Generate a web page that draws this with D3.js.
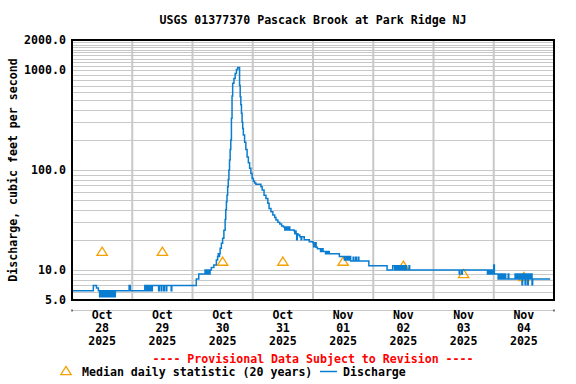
<!DOCTYPE html>
<html>
<head>
<meta charset="utf-8">
<script src="https://cdn.jsdelivr.net/npm/d3@7"></script>
<style>
  body { margin: 0; background: #fff; }
  text { font-family: "DejaVu Sans Mono", monospace; font-weight: bold; font-size: 11.6px; fill: #000; }
</style>
</head>
<body>
<svg id="chart"></svg>
<script>
var title = "USGS 01377370 Pascack Brook at Park Ridge NJ";
var yTitle = "Discharge, cubic feet per second";
var notice = "---- Provisional Data Subject to Revision ----";

var days = ["10-28", "10-29", "10-30", "10-31", "11-01", "11-02", "11-03", "11-04"];
var dayMonths = ["Oct", "Oct", "Oct", "Oct", "Nov", "Nov", "Nov", "Nov"];
var dayNumbers = ["28", "29", "30", "31", "01", "02", "03", "04"];
var dayYears = ["2025", "2025", "2025", "2025", "2025", "2025", "2025", "2025"];

var yTicks = [5, 10, 100, 1000, 2000];
var yTickLabels = ["5.0", "10.0", "100.0", "1000.0", "2000.0"];

// median daily statistic (20 years), one per day at noon
var medianValues = [15.2, 15.2, 12.1, 12.1, 12.1, 11.0, 9.1, 8.5];

// 15-minute discharge, only where the value changes
var discharge = [
  ["10-28 00:00", 6.2], ["10-28 08:30", 7.0], ["10-28 09:45", 6.6], ["10-28 10:30", 6.2],
  ["10-28 11:00", 5.4], ["10-28 11:15", 6.2], ["10-28 11:30", 5.4], ["10-28 11:45", 6.2],
  ["10-28 12:00", 5.4], ["10-28 12:15", 6.2], ["10-28 12:30", 5.4], ["10-28 12:45", 6.2],
  ["10-28 13:00", 5.4], ["10-28 13:15", 6.2], ["10-28 13:30", 5.4], ["10-28 13:45", 6.2],
  ["10-28 14:00", 5.4], ["10-28 14:15", 6.2], ["10-28 14:30", 5.4], ["10-28 14:45", 6.2],
  ["10-28 15:00", 5.4], ["10-28 15:15", 6.2], ["10-28 15:30", 5.4], ["10-28 15:45", 6.2],
  ["10-28 16:00", 5.4], ["10-28 16:15", 6.2], ["10-28 16:30", 5.4], ["10-28 16:45", 6.2],
  ["10-28 17:00", 5.4], ["10-28 17:15", 6.2],
  ["10-28 22:45", 7.0], ["10-28 23:15", 6.2],
  ["10-29 05:00", 7.0], ["10-29 05:15", 6.2], ["10-29 05:30", 7.0], ["10-29 05:45", 6.2],
  ["10-29 06:00", 7.0], ["10-29 06:15", 6.2], ["10-29 06:30", 7.0], ["10-29 06:45", 6.2],
  ["10-29 07:00", 7.0], ["10-29 07:15", 6.2], ["10-29 07:30", 7.0], ["10-29 07:45", 6.2],
  ["10-29 08:00", 7.0],
  ["10-29 10:30", 6.2], ["10-29 10:45", 7.0], ["10-29 11:30", 6.2], ["10-29 11:45", 7.0],
  ["10-29 12:30", 6.2], ["10-29 12:45", 7.0], ["10-29 13:30", 6.2], ["10-29 13:45", 7.0],
  ["10-29 15:30", 6.2], ["10-29 15:45", 7.0],
  ["10-30 01:30", 8.1], ["10-30 02:30", 9.1],
  ["10-30 05:00", 10.0], ["10-30 05:15", 9.1], ["10-30 05:30", 10.0], ["10-30 05:45", 9.1],
  ["10-30 06:00", 10.0], ["10-30 06:15", 9.1], ["10-30 06:30", 10.0], ["10-30 06:45", 9.1],
  ["10-30 07:00", 10.0], ["10-30 07:30", 10.6], ["10-30 08:30", 11.2], ["10-30 09:30", 12.6],
  ["10-30 10:00", 13.6], ["10-30 10:15", 14.5], ["10-30 10:30", 13.6], ["10-30 10:45", 14.5],
  ["10-30 11:00", 16.5], ["10-30 11:30", 18.5], ["10-30 12:00", 20.7], ["10-30 12:30", 25],
  ["10-30 13:00", 32], ["10-30 13:15", 40], ["10-30 13:30", 48], ["10-30 13:45", 56],
  ["10-30 14:00", 68], ["10-30 14:15", 81], ["10-30 14:30", 100], ["10-30 14:45", 126],
  ["10-30 15:00", 160], ["10-30 15:15", 200], ["10-30 15:30", 330], ["10-30 15:45", 550],
  ["10-30 16:00", 740], ["10-30 16:30", 825], ["10-30 17:00", 926], ["10-30 17:30", 1016],
  ["10-30 18:00", 1060], ["10-30 18:45", 700], ["10-30 19:00", 541], ["10-30 19:15", 450],
  ["10-30 19:30", 369], ["10-30 19:45", 300], ["10-30 20:00", 260], ["10-30 20:15", 224],
  ["10-30 20:45", 190], ["10-30 21:15", 160], ["10-30 21:45", 135], ["10-30 22:15", 118],
  ["10-30 22:45", 104], ["10-30 23:15", 92], ["10-30 23:45", 82],
  ["10-31 00:15", 77], ["10-31 00:45", 74], ["10-31 01:15", 72], ["10-31 03:15", 68],
  ["10-31 03:45", 63], ["10-31 04:30", 56], ["10-31 05:15", 52], ["10-31 06:00", 46.4],
  ["10-31 06:30", 41.3], ["10-31 07:15", 38.3], ["10-31 08:00", 35.5], ["10-31 08:45", 33.5],
  ["10-31 09:15", 31.6], ["10-31 10:00", 30.0], ["10-31 10:45", 28.8], ["10-31 11:30", 27.5],
  ["10-31 12:15", 26.9], ["10-31 12:45", 25.1], ["10-31 13:00", 26.9], ["10-31 13:15", 25.1],
  ["10-31 13:30", 26.9], ["10-31 13:45", 25.1], ["10-31 14:00", 26.9], ["10-31 14:15", 25.1],
  ["10-31 14:30", 26.9], ["10-31 14:45", 25.1],
  ["10-31 16:30", 24.5], ["10-31 16:45", 23.0], ["10-31 17:00", 24.5], ["10-31 17:15", 23.0],
  ["10-31 17:30", 20.0], ["10-31 17:45", 23.0], ["10-31 18:00", 22.4], ["10-31 18:45", 21.5],
  ["10-31 19:15", 20.0], ["10-31 19:30", 21.5], ["10-31 20:30", 20.0], ["10-31 22:30", 19.1],
  ["11-01 00:00", 18.7], ["11-01 00:15", 17.1], ["11-01 00:30", 18.7], ["11-01 00:45", 17.1],
  ["11-01 01:00", 18.7], ["11-01 01:15", 16.9], ["11-01 01:45", 16.3],
  ["11-01 03:00", 15.3], ["11-01 03:15", 16.3], ["11-01 03:30", 15.3], ["11-01 03:45", 16.3],
  ["11-01 04:00", 15.3], ["11-01 05:00", 14.5], ["11-01 05:15", 15.3], ["11-01 05:30", 14.5],
  ["11-01 05:45", 15.3], ["11-01 06:00", 14.5], ["11-01 06:15", 15.3], ["11-01 06:30", 14.5],
  ["11-01 10:30", 13.6],
  ["11-01 12:30", 12.6], ["11-01 12:45", 13.6], ["11-01 13:00", 12.6], ["11-01 13:15", 13.6],
  ["11-01 13:30", 12.6], ["11-01 13:45", 13.6], ["11-01 14:00", 12.6], ["11-01 14:15", 13.6],
  ["11-01 14:30", 12.6], ["11-01 14:45", 13.6], ["11-01 15:00", 12.3],
  ["11-01 16:00", 13.4], ["11-01 16:15", 12.3], ["11-01 17:00", 13.4], ["11-01 17:15", 12.3],
  ["11-01 18:00", 13.4], ["11-01 18:15", 12.3], ["11-01 22:15", 11.0],
  ["11-02 05:30", 10.0], ["11-02 07:45", 11.0],
  ["11-02 08:30", 10.0], ["11-02 08:45", 11.0], ["11-02 09:15", 10.0], ["11-02 09:30", 11.0],
  ["11-02 09:45", 10.0], ["11-02 10:00", 11.0], ["11-02 10:15", 10.0], ["11-02 10:30", 11.0],
  ["11-02 10:45", 10.0], ["11-02 11:00", 11.0], ["11-02 11:15", 10.0], ["11-02 11:30", 11.0],
  ["11-02 11:45", 10.0], ["11-02 12:00", 11.0], ["11-02 12:15", 10.0], ["11-02 12:30", 11.0],
  ["11-02 12:45", 10.0], ["11-02 13:00", 11.0], ["11-02 13:15", 10.0], ["11-02 14:15", 11.0],
  ["11-02 14:30", 10.0],
  ["11-03 10:15", 9.1], ["11-03 10:30", 10.0], ["11-03 11:15", 9.1], ["11-03 11:30", 10.0],
  ["11-03 21:30", 9.1], ["11-03 21:45", 10.0], ["11-03 22:00", 9.1], ["11-03 22:15", 10.0],
  ["11-03 22:30", 9.1], ["11-03 22:45", 10.0], ["11-03 23:00", 9.1], ["11-03 23:15", 10.0],
  ["11-03 23:30", 9.1], ["11-03 23:45", 10.0],
  ["11-04 00:00", 11.2], ["11-04 00:15", 9.1],
  ["11-04 01:45", 8.1], ["11-04 02:00", 9.1], ["11-04 02:15", 8.1], ["11-04 02:30", 9.1],
  ["11-04 02:45", 8.1], ["11-04 03:00", 9.1], ["11-04 03:15", 8.1], ["11-04 03:30", 9.1],
  ["11-04 03:45", 8.1], ["11-04 04:00", 9.1], ["11-04 04:15", 8.1], ["11-04 04:30", 9.1],
  ["11-04 04:45", 8.1], ["11-04 05:45", 9.1], ["11-04 06:00", 8.1],
  ["11-04 08:30", 9.1], ["11-04 08:45", 8.1], ["11-04 09:00", 9.1], ["11-04 09:15", 8.1],
  ["11-04 09:30", 9.1], ["11-04 09:45", 8.1], ["11-04 10:00", 9.1], ["11-04 10:15", 8.1],
  ["11-04 10:30", 9.1], ["11-04 10:45", 8.1], ["11-04 11:00", 9.1], ["11-04 11:15", 7.1],
  ["11-04 11:30", 9.1], ["11-04 11:45", 8.1], ["11-04 12:00", 9.1], ["11-04 12:15", 8.1],
  ["11-04 12:30", 7.1], ["11-04 12:45", 9.1], ["11-04 13:00", 8.1], ["11-04 13:15", 9.1],
  ["11-04 13:30", 7.1], ["11-04 13:45", 8.1], ["11-04 14:00", 9.1], ["11-04 14:15", 8.1],
  ["11-04 14:30", 9.1], ["11-04 14:45", 8.1], ["11-04 15:00", 9.1], ["11-04 15:15", 7.1],
  ["11-04 15:30", 8.1], ["11-04 22:30", 8.1]
];

var parseTime = d3.timeParse("%Y-%m-%d %H:%M");
function toDate(s) { return parseTime("2025-" + s); }

var svgWidth = 576, svgHeight = 384;
var margin = { top: 40, right: 22, bottom: 84, left: 72 };
var width = svgWidth - margin.left - margin.right;
var height = svgHeight - margin.top - margin.bottom;

var svg = d3.select("#chart")
    .attr("width", svgWidth)
    .attr("height", svgHeight);

var x = d3.scaleTime()
    .domain([toDate("10-28 00:00"), toDate("11-05 00:00")])
    .range([margin.left, margin.left + width]);

var y = d3.scaleLog()
    .domain([5, 2000])
    .range([margin.top + height, margin.top]);

// log grid: every 1..9 multiple, plus 1100..1900
var gridValues = y.ticks().filter(function(v) { return v > 5 && v < 2000; });
for (var k = 11; k <= 19; k++) gridValues.push(k * 100);

var grid = svg.append("g").attr("stroke", "#c8c8c8").attr("fill", "none");

grid.selectAll("line.h")
    .data(gridValues)
    .enter().append("line")
    .attr("class", "h")
    .attr("x1", margin.left)
    .attr("x2", margin.left + width)
    .attr("y1", function(d) { return Math.round(y(d)) + 0.5; })
    .attr("y2", function(d) { return Math.round(y(d)) + 0.5; })
    .attr("stroke-width", 1.2);

grid.selectAll("line.v")
    .data(days.slice(1))
    .enter().append("line")
    .attr("class", "v")
    .attr("x1", function(d) { return x(toDate(d + " 00:00")); })
    .attr("x2", function(d) { return x(toDate(d + " 00:00")); })
    .attr("y1", margin.top)
    .attr("y2", margin.top + height)
    .attr("stroke-width", 2);

// median triangles
var tri = "M0,-4.6L5.2,3.6L-5.2,3.6Z";
svg.append("g")
    .selectAll("path")
    .data(medianValues)
    .enter().append("path")
    .attr("d", tri)
    .attr("transform", function(d, i) {
        return "translate(" + x(toDate(days[i] + " 12:00")) + "," + y(d) + ")";
    })
    .attr("fill", "none")
    .attr("stroke", "#f5a000")
    .attr("stroke-width", 1.3);

// discharge
var line = d3.line()
    .curve(d3.curveStepAfter)
    .x(function(d) { return x(toDate(d[0])); })
    .y(function(d) { return y(d[1]); });

svg.append("path")
    .datum(discharge)
    .attr("fill", "none")
    .attr("stroke", "#0a7dd0")
    .attr("stroke-width", 1.5)
    .attr("d", line);

// frame
svg.append("rect")
    .attr("x", margin.left)
    .attr("y", margin.top)
    .attr("width", width)
    .attr("height", height)
    .attr("fill", "none")
    .attr("stroke", "#000")
    .attr("stroke-width", 2);

// y tick labels
svg.append("g")
    .selectAll("text")
    .data(yTicks)
    .enter().append("text")
    .attr("x", margin.left - 6)
    .attr("y", function(d) { return y(d) + 4; })
    .attr("text-anchor", "end")
    .text(function(d, i) { return yTickLabels[i]; });

// x axis line under the plot
var axisY = margin.top + height + 10.5;
svg.append("line")
    .attr("x1", margin.left).attr("x2", margin.left + width)
    .attr("y1", axisY).attr("y2", axisY)
    .attr("stroke", "#c8c8c8").attr("stroke-width", 1);
svg.append("g")
    .selectAll("line")
    .data([x.domain()[0], x.domain()[1]])
    .enter().append("line")
    .attr("x1", function(d) { return x(d); })
    .attr("x2", function(d) { return x(d); })
    .attr("y1", axisY - 1).attr("y2", axisY + 1)
    .attr("stroke", "#000");

var xLabels = svg.append("g")
    .selectAll("text")
    .data(days)
    .enter().append("text")
    .attr("x", function(d) { return x(toDate(d + " 12:00")); })
    .attr("y", 318.5)
    .attr("text-anchor", "middle");
xLabels.append("tspan").text(function(d, i) { return dayMonths[i]; });
xLabels.append("tspan")
    .attr("x", function(d) { return x(toDate(d + " 12:00")); })
    .attr("dy", 13)
    .text(function(d, i) { return dayNumbers[i]; });
xLabels.append("tspan")
    .attr("x", function(d) { return x(toDate(d + " 12:00")); })
    .attr("dy", 13)
    .text(function(d, i) { return dayYears[i]; });

// titles
svg.append("text")
    .attr("x", margin.left + width / 2)
    .attr("y", 24)
    .attr("text-anchor", "middle")
    .text(title);

svg.append("text")
    .attr("transform", "translate(17," + (margin.top + height / 2) + ") rotate(-90)")
    .attr("text-anchor", "middle")
    .text(yTitle);

svg.append("text")
    .attr("x", margin.left + width / 2)
    .attr("y", 362.5)
    .attr("text-anchor", "middle")
    .style("fill", "#ff0000")
    .text(notice);

// legend
var legend = svg.append("g");
legend.append("path")
    .attr("d", tri)
    .attr("transform", "translate(66,371)")
    .attr("fill", "none")
    .attr("stroke", "#f5a000")
    .attr("stroke-width", 1.3);
legend.append("text")
    .attr("x", 82)
    .attr("y", 376)
    .text("Median daily statistic (20 years)");
legend.append("line")
    .attr("x1", 320).attr("x2", 337)
    .attr("y1", 371.5).attr("y2", 371.5)
    .attr("stroke", "#0a7dd0")
    .attr("stroke-width", 1.5);
legend.append("text")
    .attr("x", 343)
    .attr("y", 376)
    .text("Discharge");
</script>
</body>
</html>
